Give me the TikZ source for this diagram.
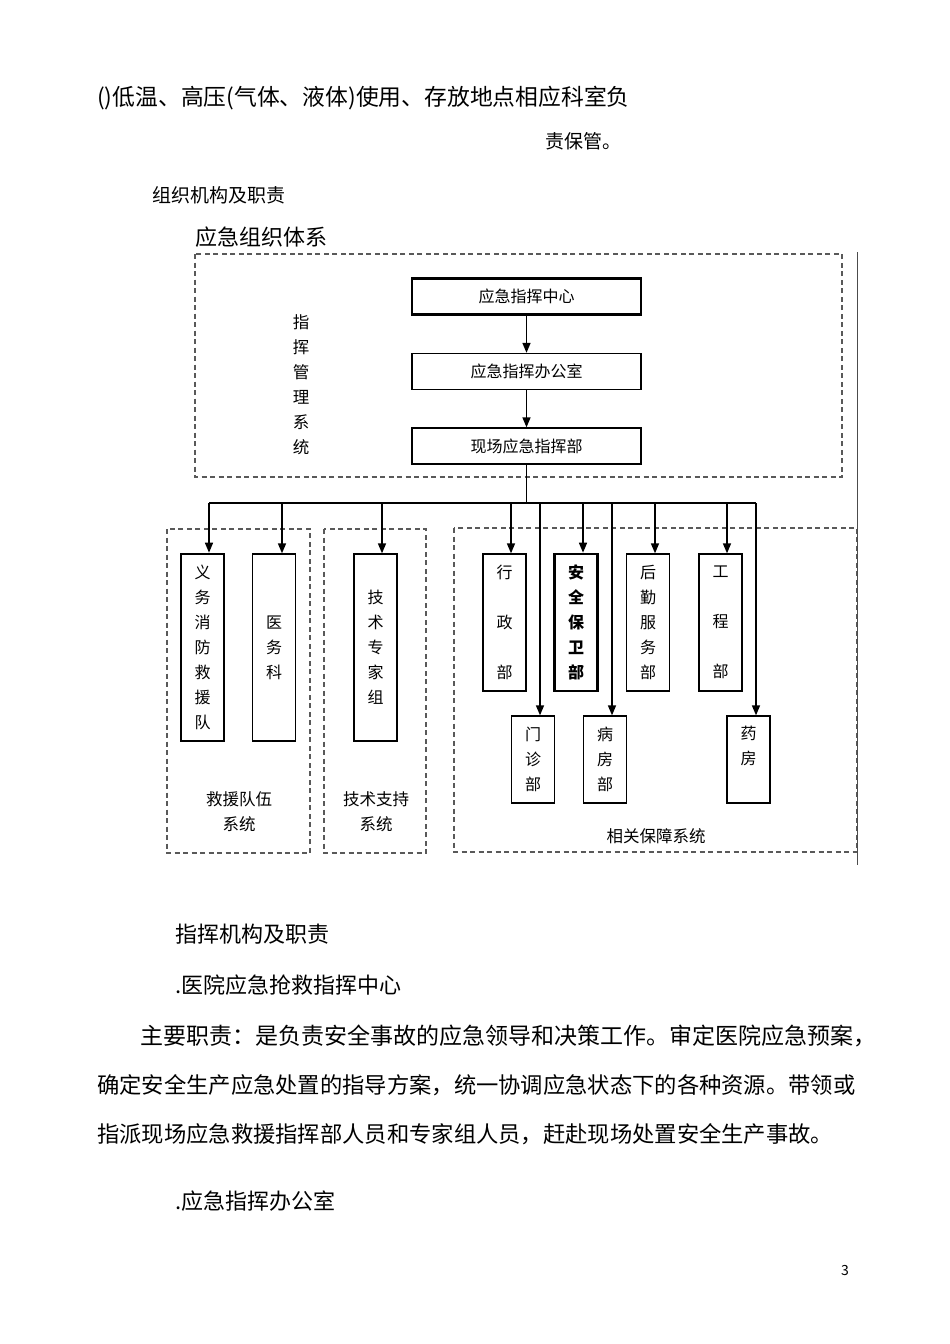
\documentclass[tikz,border=0pt]{standalone}
\usepackage{fontspec}
\setmainfont{Noto Sans CJK SC}
\usetikzlibrary{arrows.meta}
\begin{document}
\begin{tikzpicture}[x=1pt,y=-1pt,
  box/.style={draw=black, line width=1.3pt, inner sep=0pt, font=\fontsize{16}{25}\selectfont, align=center},
  hbox/.style={box, minimum width=229pt, minimum height=36pt},
  vbox/.style={box, minimum width=43pt},
  heavy/.style={line width=2.6pt},
  grp/.style={draw=black!65, dash pattern=on 5pt off 3.5pt, line width=1.4pt},
  arr/.style={-{Triangle[length=10pt,width=8pt]}, line width=1.5pt},
  trunk/.style={line width=1.5pt},
  body/.style={anchor=west, inner sep=0pt, font=\fontsize{22}{22}\selectfont},
  lab/.style={inner sep=0pt, font=\fontsize{16.5}{25}\selectfont, align=center}
]
\useasboundingbox (0,0) rectangle (950,1344);
\fill[white] (0,0) rectangle (950,1344);

% text above
\node[body, font=\fontsize{22.8}{22.8}\selectfont] (p1) at (97,98) {()低温、高压(气体、液体)使用、存放地点相应科室负};
\node[body, font=\fontsize{19}{19}\selectfont] (p2) at (545,141) {责保管。};
\node[body, font=\fontsize{19}{19}\selectfont] (h1) at (152,195) {组织机构及职责};
\node[body] (h2) at (195,237) {应急组织体系};

% group frames
\draw[grp] (195,254) rectangle (842,477);
\draw[grp] (167,529) rectangle (310,853);
\draw[grp] (324,529) rectangle (426,853);
\draw[grp] (454,528) rectangle (857,852);
\draw[line width=1pt, black!70] (857,252) -- (857,865);

% command chain
\node[lab] (zh) at (301,384.5) {指\\挥\\管\\理\\系\\统};
\node[hbox, heavy] (c1) at (526.5,296.5) {应急指挥中心};
\node[hbox] (c2) at (526.5,371.5) {应急指挥办公室};
\node[hbox] (c3) at (526.5,446) {现场应急指挥部};
\draw[arr] (c1) -- (c2);
\draw[arr] (c2) -- (c3);

% lower boxes
\node[vbox, heavy, minimum height=187pt] (yw) at (202.5,647.5) {义\\务\\消\\防\\救\\援\\队};
\node[vbox, minimum height=187pt] (ywk) at (274,647.5) {医\\务\\科};
\node[vbox, minimum height=187pt] (js) at (375.5,647.5) {技\\术\\专\\家\\组};
\node[vbox, minimum height=137pt] (xz) at (504.5,622.5) {行\\[25pt]政\\[25pt]部};
\node[vbox, heavy, minimum height=137pt, font=\fontsize{16}{25}\selectfont\bfseries] (aq) at (576,622.5) {安\\全\\保\\卫\\部};
\node[vbox, minimum height=137pt] (hq) at (648,622.5) {后\\勤\\服\\务\\部};
\node[vbox, minimum height=137pt] (gc) at (720.5,622.5) {工\\[25pt]程\\[25pt]部};
\node[vbox, minimum height=87pt] (mz) at (533,759.5) {门\\诊\\部};
\node[vbox, minimum height=87pt] (bf) at (605,759.5) {病\\房\\部};
\node[vbox, minimum height=87pt] (yf) at (748.5,759.5) {药\\房\\[4pt]};

% bus
\coordinate (t) at (526.5,503);
\coordinate (bl) at (209,503);
\coordinate (br) at (756,503);
\draw[trunk] (c3) -- (t);
\draw[trunk] (bl) -- (br);
\foreach \n/\x/\b in {a1/209/yw, a2/282/ywk, a3/382/js, a4/511/xz, a5/540/mz, a6/583/aq, a7/612/bf, a8/655/hq, a9/727/gc, a10/756/yf}{
  \coordinate (\n) at (\x,503);
  \draw[arr] (\n) -- (\n |- \b.north);
}

% group labels
\node[lab] (l1) at (239,811.5) {救援队伍\\系统};
\node[lab] (l2) at (376,811.5) {技术支持\\系统};
\node[lab] (l3) at (656,836) {相关保障系统};

% text below
\node[body] (h3) at (175,934) {指挥机构及职责};
\node[body] (h4) at (175,985) {.医院应急抢救指挥中心};
\node[body, font=\fontsize{23}{23}\selectfont] (b1) at (140,1036) {主要职责：是负责安全事故的应急领导和决策工作。审定医院应急预案，};
\node[body, font=\fontsize{22.3}{22.3}\selectfont] (b2) at (97,1085) {确定安全生产应急处置的指导方案，统一协调应急状态下的各种资源。带领或};
\node[body, font=\fontsize{22.3}{22.3}\selectfont] (b3) at (97,1134) {指派现场应急救援指挥部人员和专家组人员，赶赴现场处置安全生产事故。};
\node[body] (h5) at (175,1201) {.应急指挥办公室};
\node[font=\fontsize{14}{14}\selectfont] (pg) at (845,1270) {3};
\end{tikzpicture}
\end{document}
